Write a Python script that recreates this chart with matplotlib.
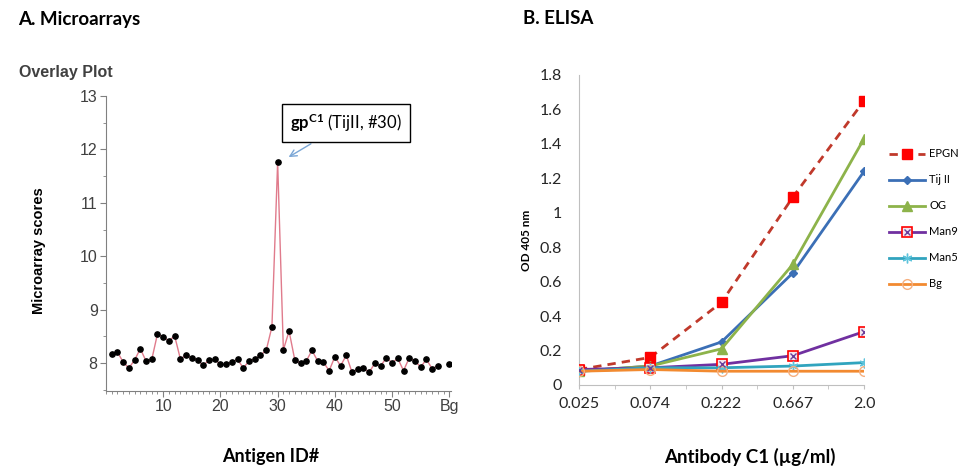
import matplotlib
matplotlib.use("Agg")
import matplotlib.pyplot as plt
from matplotlib.ticker import MultipleLocator, FixedLocator
import numpy as np

plt.rcParams['mathtext.fontset'] = 'custom'
plt.rcParams['mathtext.rm'] = 'Lato'
plt.rcParams['mathtext.bf'] = 'Lato:bold'

# --- A. Microarrays data ---
antigen_id = list(range(1, 59))
scores = [8.17, 8.21, 8.02, 7.91, 8.06, 8.27, 8.04, 8.07, 8.55, 8.49,
          8.42, 8.51, 8.08, 8.15, 8.10, 8.06, 7.96, 8.06, 8.07, 7.98,
          7.98, 8.02, 8.07, 7.91, 8.04, 8.08, 8.15, 8.24, 8.68, 11.76,
          8.25, 8.60, 8.06, 8.00, 8.04, 8.24, 8.04, 8.02, 7.86, 8.12,
          7.95, 8.15, 7.83, 7.89, 7.91, 7.83, 8.00, 7.95, 8.10, 8.01,
          8.09, 7.86, 8.10, 8.04, 7.93, 8.07, 7.90, 7.95]
bg_id = 60
bg_score = 7.98
a_xticks = [10, 20, 30, 40, 50, 60]
a_xticklabels = ["10", "20", "30", "40", "50", "Bg"]

# --- B. ELISA data ---
conc = ["0.025", "0.074", "0.222", "0.667", "2.0"]
epgn = [0.09, 0.16, 0.48, 1.09, 1.65]
tij = [0.08, 0.11, 0.25, 0.65, 1.24]
og = [0.08, 0.11, 0.21, 0.70, 1.43]
man9 = [0.09, 0.10, 0.12, 0.17, 0.31]
man5 = [0.08, 0.10, 0.10, 0.11, 0.13]
bg = [0.08, 0.09, 0.08, 0.08, 0.08]

W, H = 967, 468
fig = plt.figure(figsize=(W / 100, H / 100), dpi=100)

def box(l, t, r, b):
    return [l / W, 1 - b / H, (r - l) / W, (b - t) / H]

fig.text(18 / W, 1 - 19 / H, "A. Microarrays", fontsize=13.5, fontweight='bold',
         family='Lato', va='center', ha='left')
fig.text(523 / W, 1 - 19 / H, "B. ELISA", fontsize=13.5, fontweight='bold',
         family='Lato', va='center', ha='left')
fig.text(19 / W, 1 - 72 / H, "Overlay Plot", fontsize=11.5, fontweight='bold',
         family='Liberation Sans', color='#404040', va='center', ha='left')

# ---------- left panel ----------
ax1 = fig.add_axes(box(106, 96, 451, 391))
ax1.plot(antigen_id, scores, color='#e07b8c', lw=1, zorder=2)
ax1.plot(antigen_id, scores, 'o', color='black', ms=3.8, zorder=3)
ax1.plot([bg_id], [bg_score], 'o', color='black', ms=3.8, zorder=3)
ax1.set_xlim(0, 60.3)
ax1.set_ylim(7.48, 13)
ax1.xaxis.set_major_locator(FixedLocator(a_xticks))
ax1.set_xticklabels(a_xticklabels)
ax1.xaxis.set_minor_locator(MultipleLocator(1))
ax1.yaxis.set_minor_locator(MultipleLocator(0.5))
ax1.set_yticks([8, 9, 10, 11, 12, 13])
for s in ['top', 'right']:
    ax1.spines[s].set_visible(False)
for s in ['left', 'bottom']:
    ax1.spines[s].set_color('#808080')
ax1.tick_params(which='major', length=4, color='#808080', labelsize=11.5,
                labelcolor='#404040', pad=2)
ax1.tick_params(which='minor', length=2.5, color='#808080')
for lab in ax1.get_xticklabels() + ax1.get_yticklabels():
    lab.set_family('Liberation Sans')
ax1.set_ylabel("Microarray scores", fontsize=10.5, fontweight='bold',
               family='Liberation Sans')
ax1.yaxis.set_label_coords(-0.173, 0.476)
ax1.set_xlabel("Antigen ID#", fontsize=13, fontweight='bold', family='Lato')
ax1.xaxis.set_label_coords(0.478, -0.193)

ax1.annotate(r"$\mathbf{gp^{C1}}$ (TijII, #30)", xy=(31.5, 11.83),
             xytext=(42.0, 12.5), textcoords='data', fontsize=12,
             family='Lato', ha='center', va='center',
             bbox=dict(boxstyle='square,pad=0.5', fc='white', ec='black', lw=1),
             arrowprops=dict(arrowstyle='->', color='#7aa6d6', lw=1))

# ---------- right panel ----------
ax2 = fig.add_axes(box(579, 75, 864, 385))
x = np.arange(len(conc))
ax2.plot(x, epgn, color='#c0392b', lw=2, ls=(0, (3, 2.2)), marker='s',
         mfc='#ff0000', mec='#ff0000', ms=6.5, label='EPGN', zorder=3)
ax2.plot(x, tij, color='#3b6fb6', lw=2, marker='D', mfc='#3b6fb6',
         mec='#3b6fb6', ms=4.5, label='Tij II', zorder=3)
ax2.plot(x, og, color='#8db34a', lw=2, marker='^', mfc='#8db34a',
         mec='#8db34a', ms=6.5, label='OG', zorder=3)
l_m9, = ax2.plot(x, man9, color='#7030a0', lw=2, marker='s', mfc='#f2e6ee',
                 mec='#ff0000', mew=1.2, ms=7.5, zorder=3)
l_m9x, = ax2.plot(x, man9, ls='none', marker='x', mec='#6a3d9a', mew=1,
                  ms=5, zorder=4)
l_m5, = ax2.plot(x, man5, color='#31a4be', lw=2, marker=(6, 2, 0),
                 mec='#5ec4dc', mew=1, ms=7, zorder=3)
l_bg, = ax2.plot(x, bg, color='#f28a30', lw=2, marker='o', mfc='none',
                 mec='#f6b080', mew=1, ms=7, zorder=3)
ax2.set_xlim(0, 4)
ax2.set_ylim(0, 1.8)
ax2.set_xticks(x)
ax2.set_xticklabels(conc)
ax2.xaxis.set_minor_locator(MultipleLocator(0.5))
ax2.set_yticks(np.arange(0, 1.81, 0.2))
ax2.set_yticklabels(["0", "0.2", "0.4", "0.6", "0.8", "1", "1.2", "1.4",
                     "1.6", "1.8"])
for s in ['top', 'right']:
    ax2.spines[s].set_visible(False)
for s in ['left', 'bottom']:
    ax2.spines[s].set_color('#bfbfbf')
ax2.tick_params(axis='y', length=0, labelsize=11.5, labelcolor='#262626', pad=12)
ax2.tick_params(axis='x', which='both', length=3, color='#bfbfbf',
                labelsize=11.5, labelcolor='#262626', pad=6)
for lab in ax2.get_xticklabels() + ax2.get_yticklabels():
    lab.set_family('Lato')
ax2.set_ylabel("OD 405 nm", fontsize=8.5, fontweight='bold', family='Lato')
ax2.yaxis.set_label_coords(-0.165, 0.468)
ax2.set_xlabel("Antibody C1 (\u00b5g/ml)", fontsize=13.5, fontweight='bold',
               family='Lato')
ax2.xaxis.set_label_coords(0.6, -0.203)

handles = ax2.get_lines()[:3] + [(l_m9, l_m9x), l_m5, l_bg]
labels = ['EPGN', 'Tij II', 'OG', 'Man9', 'Man5', 'Bg']
ax2.legend(handles, labels, loc='upper left', bbox_to_anchor=(885 / W, 1 - 144 / H),
           bbox_transform=fig.transFigure, frameon=False,
           prop={'family': 'Lato', 'size': 8}, handlelength=3.2,
           handletextpad=0.4, labelspacing=1.35, borderaxespad=0)

fig.savefig("out.png", dpi=100)
